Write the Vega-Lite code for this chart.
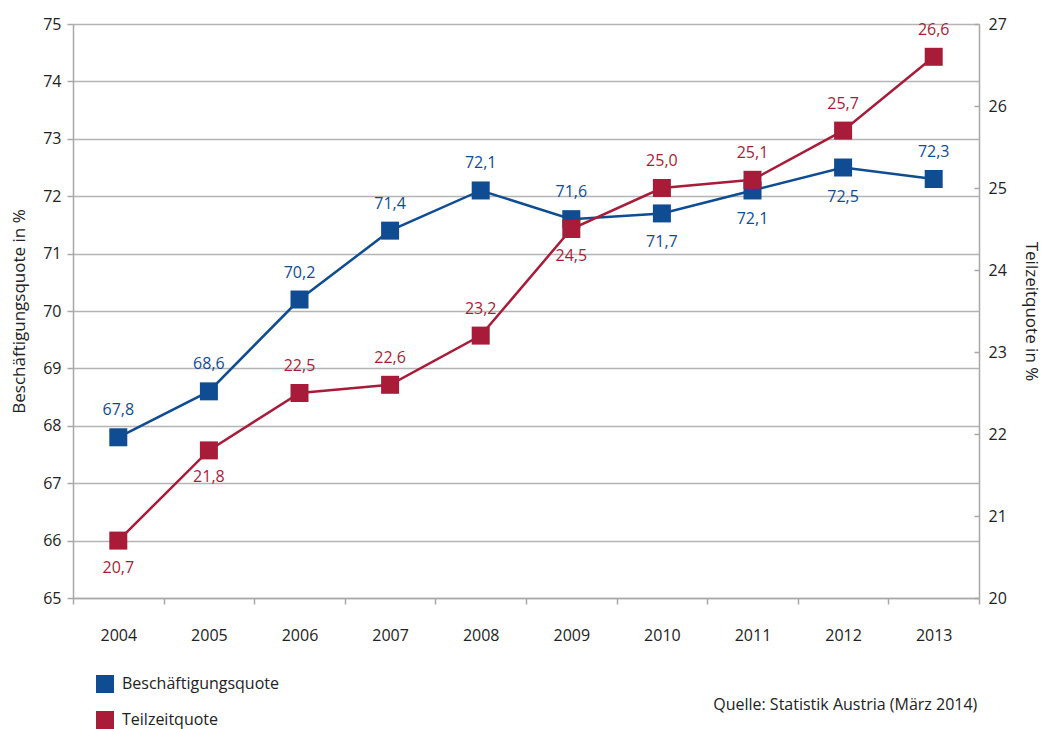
{
  "$schema": "https://vega.github.io/schema/vega-lite/v6.json",
  "width": 906,
  "height": 574,
  "autosize": {"type": "none"},
  "padding": {"left": 73, "top": 24, "right": 66, "bottom": 131},
  "background": "white",
  "config": {
    "font": "Open Sans",
    "view": {"stroke": null},
    "locale": {"number": {"decimal": ",", "thousands": ".", "grouping": [3], "currency": ["", " €"]}},
    "axis": {"labelFont": "Open Sans", "titleFont": "Open Sans", "labelColor": "#222", "titleColor": "#222", "domainColor": "#a8a8a8", "tickColor": "#a8a8a8", "gridColor": "#b4b4b4", "labelFontSize": 16, "titleFontSize": 17, "titleFontWeight": "normal", "domainWidth": 1.5, "tickWidth": 1.5, "gridWidth": 1.5}
  },
  "title": {"text": "Quelle: Statistik Austria (März 2014)", "orient": "bottom", "anchor": "end", "fontSize": 16, "fontWeight": "normal", "color": "#222", "font": "Open Sans", "offset": -32, "dx": -62},
  "data": {"values": [
    {"year": "2004", "series": "Beschäftigungsquote", "value": 67.8},
    {"year": "2005", "series": "Beschäftigungsquote", "value": 68.6},
    {"year": "2006", "series": "Beschäftigungsquote", "value": 70.2},
    {"year": "2007", "series": "Beschäftigungsquote", "value": 71.4},
    {"year": "2008", "series": "Beschäftigungsquote", "value": 72.1},
    {"year": "2009", "series": "Beschäftigungsquote", "value": 71.6},
    {"year": "2010", "series": "Beschäftigungsquote", "value": 71.7},
    {"year": "2011", "series": "Beschäftigungsquote", "value": 72.1},
    {"year": "2012", "series": "Beschäftigungsquote", "value": 72.5},
    {"year": "2013", "series": "Beschäftigungsquote", "value": 72.3},
    {"year": "2004", "series": "Teilzeitquote", "value": 20.7},
    {"year": "2005", "series": "Teilzeitquote", "value": 21.8},
    {"year": "2006", "series": "Teilzeitquote", "value": 22.5},
    {"year": "2007", "series": "Teilzeitquote", "value": 22.6},
    {"year": "2008", "series": "Teilzeitquote", "value": 23.2},
    {"year": "2009", "series": "Teilzeitquote", "value": 24.5},
    {"year": "2010", "series": "Teilzeitquote", "value": 25.0},
    {"year": "2011", "series": "Teilzeitquote", "value": 25.1},
    {"year": "2012", "series": "Teilzeitquote", "value": 25.7},
    {"year": "2013", "series": "Teilzeitquote", "value": 26.6}
  ]},
  "encoding": {
    "x": {"field": "year", "type": "ordinal", "scale": {"type": "band", "paddingInner": 0, "paddingOuter": 0},
      "axis": {"title": null, "labelAngle": 0, "tickBand": "extent", "tickSize": 6, "labelPadding": 23, "grid": false}},
    "color": {"field": "series", "type": "nominal",
      "scale": {"domain": ["Beschäftigungsquote", "Teilzeitquote"], "range": ["#0f4c92", "#a81c3a"]},
      "legend": {"title": null, "orient": "none", "legendX": 23, "legendY": 651, "direction": "vertical", "symbolType": "square", "symbolSize": 324, "symbolStrokeWidth": 0, "symbolOpacity": 1, "labelFontSize": 16, "labelFont": "Open Sans", "labelColor": "#222", "rowPadding": 18, "labelOffset": 8}}
  },
  "layer": [
    {
      "transform": [{"filter": "datum.series === 'Beschäftigungsquote'"}],
      "encoding": {
        "y": {"field": "value", "type": "quantitative", "scale": {"domain": [65, 75], "nice": false, "zero": false},
          "axis": {"orient": "left", "title": "Beschäftigungsquote in %", "values": [65, 66, 67, 68, 69, 70, 71, 72, 73, 74, 75], "labelOverlap": false, "grid": true, "tickSize": 6, "labelPadding": 6, "titlePadding": 14, "domain": true}}
      },
      "layer": [
        {"mark": {"type": "line", "strokeWidth": 2.5}},
        {"mark": {"type": "point", "shape": "square", "size": 324, "filled": true, "opacity": 1}},
        {"transform": [{"filter": "indexof(['2010','2011','2012'], datum.year) < 0"}],
         "mark": {"type": "text", "baseline": "middle", "dy": -27, "fontSize": 16, "font": "Open Sans"},
         "encoding": {"text": {"field": "value", "type": "quantitative", "format": ".1f"}}},
        {"transform": [{"filter": "indexof(['2010','2011','2012'], datum.year) >= 0"}],
         "mark": {"type": "text", "baseline": "middle", "dy": 29, "fontSize": 16, "font": "Open Sans"},
         "encoding": {"text": {"field": "value", "type": "quantitative", "format": ".1f"}}}
      ]
    },
    {
      "transform": [{"filter": "datum.series === 'Teilzeitquote'"}],
      "encoding": {
        "y": {"field": "value", "type": "quantitative", "scale": {"domain": [20, 27], "nice": false, "zero": false},
          "axis": {"orient": "right", "title": "Teilzeitquote in %", "values": [20, 21, 22, 23, 24, 25, 26, 27], "labelOverlap": false, "grid": false, "tickSize": -5, "labelPadding": 14, "titlePadding": 15, "domain": true}}
      },
      "layer": [
        {"mark": {"type": "line", "strokeWidth": 2.5}},
        {"mark": {"type": "point", "shape": "square", "size": 324, "filled": true, "opacity": 1}},
        {"transform": [{"filter": "indexof(['2004','2005','2009'], datum.year) < 0"}],
         "mark": {"type": "text", "baseline": "middle", "dy": -27, "fontSize": 16, "font": "Open Sans"},
         "encoding": {"text": {"field": "value", "type": "quantitative", "format": ".1f"}}},
        {"transform": [{"filter": "indexof(['2004','2005','2009'], datum.year) >= 0"}],
         "mark": {"type": "text", "baseline": "middle", "dy": 27, "fontSize": 16, "font": "Open Sans"},
         "encoding": {"text": {"field": "value", "type": "quantitative", "format": ".1f"}}}
      ]
    }
  ],
  "resolve": {"scale": {"y": "independent"}, "axis": {"y": "independent"}}
}
